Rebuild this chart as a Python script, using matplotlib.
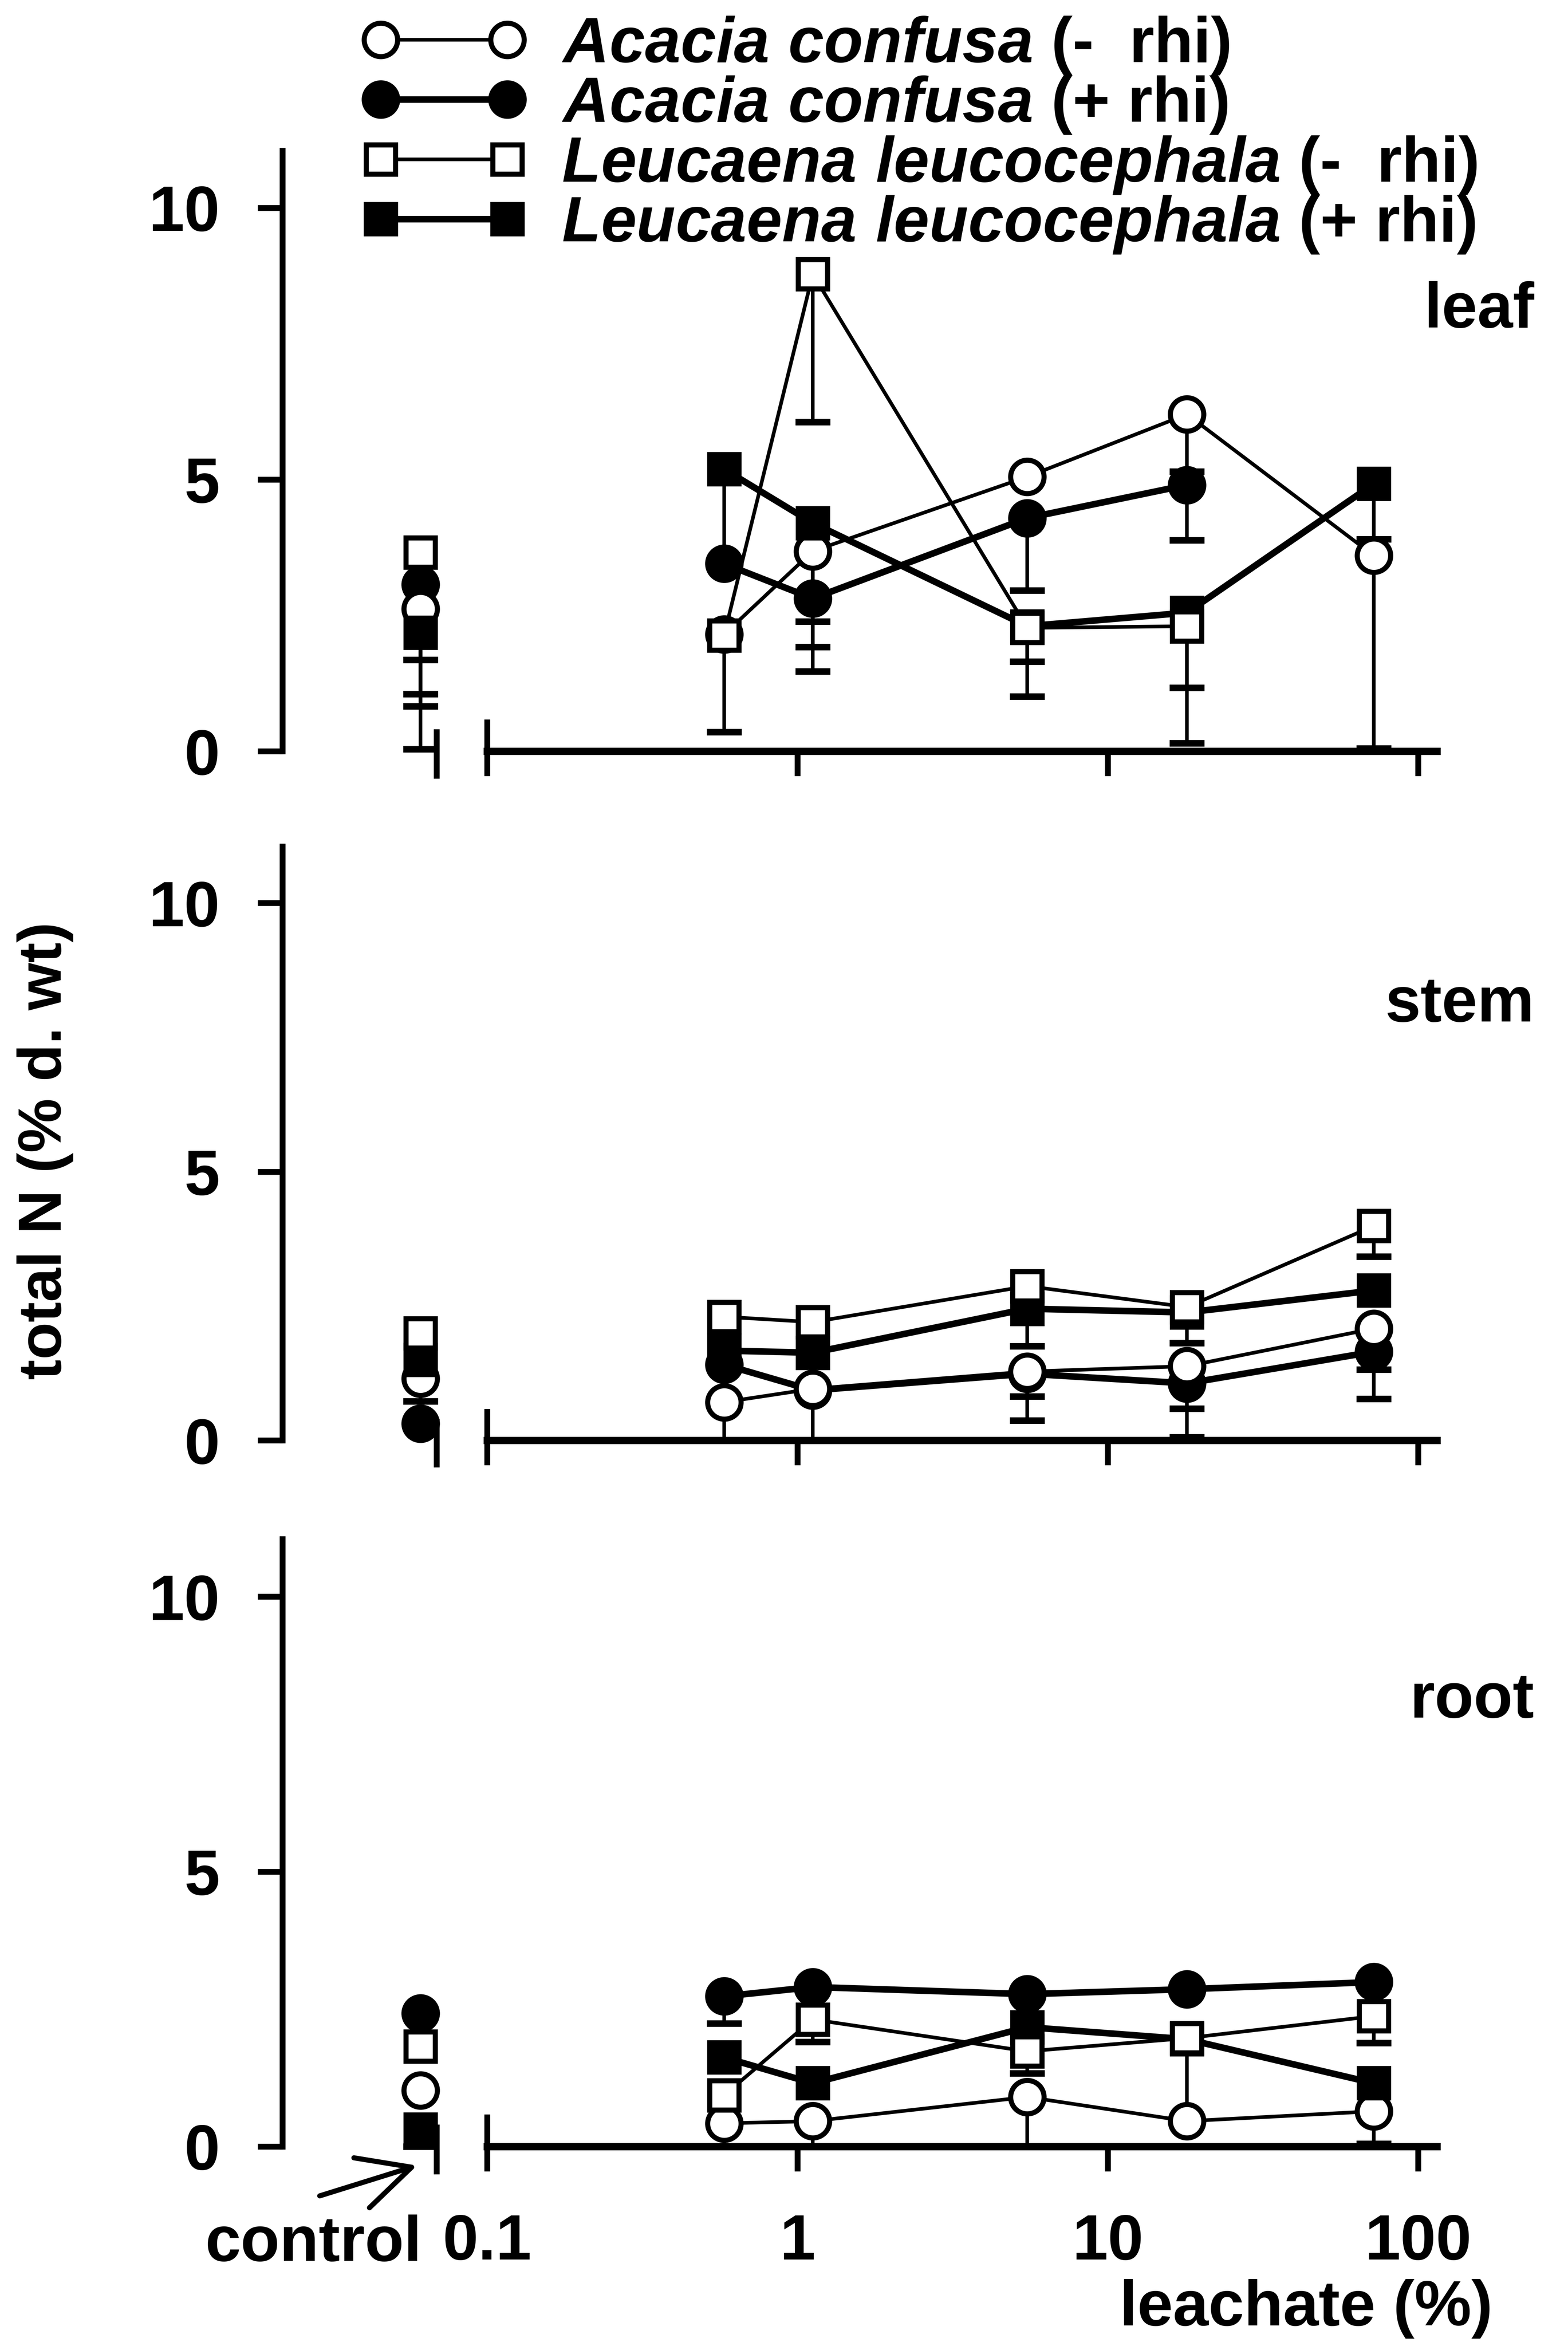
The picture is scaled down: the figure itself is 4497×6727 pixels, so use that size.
import numpy as np
import matplotlib
matplotlib.use("Agg")
import matplotlib.pyplot as plt

plt.rcParams['font.family'] = 'Liberation Sans'
plt.rcParams['font.weight'] = 'bold'
plt.rcParams['mathtext.fontset'] = 'custom'
plt.rcParams['mathtext.rm'] = 'Liberation Sans:bold'
plt.rcParams['mathtext.it'] = 'Liberation Sans:italic:bold'

nan = np.nan

# leachate concentrations (%) and the control position on the broken axis
conc = [0.58, 1.12, 5.5, 18, 72]
control_x = 0.061
xticks = [0.1, 1, 10, 100]
xticklabels = ['0.1', '1', '10', '100']

labels = [r'$\mathit{Acacia\ confusa}$ (-  rhi)',
          r'$\mathit{Acacia\ confusa}$ (+ rhi)',
          r'$\mathit{Leucaena\ leucocephala}$ (-  rhi)',
          r'$\mathit{Leucaena\ leucocephala}$ (+ rhi)']

# total N (% d. wt); order: AC -rhi, AC +rhi, LL -rhi, LL +rhi
leaf_values = [[2.15, 3.68, 5.05, 6.2, 3.6],
               [3.45, 2.81, 4.29, 4.9, nan],
               [2.13, 8.78, 2.27, 2.3, nan],
               [5.19, 4.2, 2.3, 2.55, 4.92]]
leaf_lower = [[nan, 1.92, nan, 5.15, 0.05],
              [nan, 2.39, 2.96, 3.88, nan],
              [0.35, 6.06, 1.01, 0.15, nan],
              [3.5, 1.47, 1.65, 1.17, 3.9]]
leaf_control = [2.62, 3.07, 3.66, 2.18]
leaf_control_lower = [0.04, 1.05, 0.83, 1.68]

stem_values = [[0.71, 0.96, 1.28, 1.38, 2.08],
               [1.41, 0.93, 1.24, 1.06, 1.65],
               [2.3, 2.2, 2.87, 2.48, 3.99],
               [1.67, 1.63, 2.45, 2.38, 2.79]]
stem_lower = [[0.0, 0.0, 0.37, 0.59, 1.32],
              [nan, nan, 0.82, 0.06, 0.77],
              [nan, nan, nan, 1.81, 3.42],
              [nan, nan, 1.75, nan, nan]]
stem_control = [1.15, 0.31, 1.99, 1.5]
stem_control_lower = [0.73, nan, nan, nan]

root_values = [[0.42, 0.46, 0.9, 0.46, 0.64],
               [2.73, 2.9, 2.77, 2.86, 2.99],
               [0.93, 2.31, 1.73, 1.97, 2.37],
               [1.62, 1.15, 2.17, 1.95, 1.15]]
root_lower = [[0.0, 0.0, 0.0, nan, 0.05],
              [2.24, nan, nan, nan, nan],
              [nan, 1.9, 1.33, 0.5, 1.88],
              [nan, nan, nan, nan, nan]]
root_control = [1.02, 2.42, 1.82, 0.31]
root_control_lower = [nan, nan, nan, 0.0]

panels = [('leaf', leaf_values, leaf_lower, leaf_control, leaf_control_lower),
          ('stem', stem_values, stem_lower, stem_control, stem_control_lower),
          ('root', root_values, root_lower, root_control, root_control_lower)]

markers = ['o', 'o', 's', 's']
faces = ['white', 'black', 'white', 'black']
widths = [2.5, 4.5, 2.5, 4.5]
sizes = [23, 23, 20, 20]
zorders = [4, 3, 6, 5]

fig = plt.figure(figsize=(4497 / 300, 6727 / 300), dpi=300)
positions = [[0.1801, 0.6659, 0.7427, 0.2710],
             [0.1801, 0.3723, 0.7427, 0.2680],
             [0.1801, 0.0710, 0.7427, 0.2742]]

handles = []
for i, (name, values, lower, ctrl, ctrl_lo) in enumerate(panels):
    ax = fig.add_axes(positions[i])
    ax.set_xscale('log')
    ax.set_xlim(10 ** -1.66, 10 ** 2.093)
    ax.set_ylim(-0.6, 11.1)

    for k in range(4):
        y = np.array(values[k], dtype=float)
        lo = np.array(lower[k], dtype=float)
        xs = np.array(conc)
        m = ~np.isnan(lo) & ~np.isnan(y)
        ax.vlines(xs[m], lo[m], y[m], color='k', lw=2.5, zorder=2)
        ax.plot(xs[m], lo[m], ls='none', marker='_', ms=24, mew=4.5, color='k', zorder=2)
        if not np.isnan(ctrl_lo[k]):
            ax.vlines(control_x, ctrl_lo[k], ctrl[k], color='k', lw=2.5, zorder=2)
            ax.plot(control_x, ctrl_lo[k], marker='_', ms=24, mew=4.5, color='k', zorder=2)
        h, = ax.plot(conc, y, color='k', lw=widths[k], marker=markers[k], ms=sizes[k],
                     mfc=faces[k], mec='k', mew=3.5, zorder=zorders[k])
        ax.plot(control_x, ctrl[k], ls='none', marker=markers[k], ms=sizes[k],
                mfc=faces[k], mec='k', mew=3.5, zorder=zorders[k], clip_on=False)
        if i == 0:
            handles.append(h)

    for side in ['top', 'right']:
        ax.spines[side].set_visible(False)
    ax.spines['left'].set_bounds(0, 11.05)
    ax.spines['left'].set_linewidth(4)
    ax.spines['bottom'].set_position(('data', 0))
    ax.spines['bottom'].set_bounds(0.1, 115)
    ax.spines['bottom'].set_linewidth(5)

    ax.set_yticks([0, 5, 10])
    ax.set_xticks(xticks)
    ax.xaxis.set_minor_locator(matplotlib.ticker.NullLocator())
    ax.tick_params(axis='both', direction='out', length=17, width=4, labelsize=44)
    ax.tick_params(axis='y', pad=26)
    ax.tick_params(axis='x', pad=29)
    if i == 2:
        ax.set_xticklabels(xticklabels)
    else:
        ax.set_xticklabels([])

    # axis break marks
    ax.plot([0.1, 0.1], [0, 0.53], color='k', lw=4, clip_on=False)
    ax.plot([0.0687, 0.0687], [-0.45, 0.35], color='k', lw=4, clip_on=False)

    ax.text(1.075, 8.1, name, transform=ax.get_yaxis_transform(),
            ha='right', va='center', fontsize=44)

fig.legend(handles, labels, loc='upper left', bbox_to_anchor=(0.2306, 0.9936),
           frameon=False, fontsize=44, numpoints=2, handlelength=2.58,
           handletextpad=0.55, labelspacing=-0.02, borderpad=0, borderaxespad=0)

fig.text(0.0287, 0.5094, 'total N (% d. wt)', rotation=90, ha='center', va='center', fontsize=42)
fig.text(0.952, 0.0158, 'leachate (%)', ha='right', va='center', fontsize=44)
fig.text(0.200, 0.0434, 'control', ha='center', va='center', fontsize=44)
fig.add_artist(matplotlib.patches.FancyArrowPatch(
    (909 / 4497, 1 - 6299 / 6727), (1204 / 4497, 1 - 6207 / 6727),
    transform=fig.transFigure, arrowstyle='->,head_length=0.9,head_width=0.45',
    lw=3.5, color='k', mutation_scale=40))

fig.savefig('out.png', dpi=300)
